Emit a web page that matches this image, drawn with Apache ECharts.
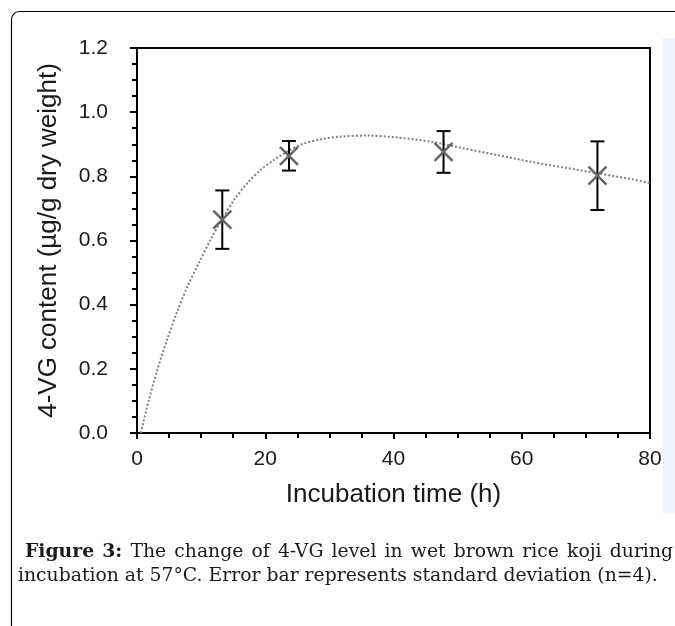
<!DOCTYPE html>
<html>
<head>
<meta charset="utf-8">
<script src="https://cdn.jsdelivr.net/npm/echarts@6/dist/echarts.min.js"></script>
<style>
  html, body { margin: 0; padding: 0; background: #fff; }
  #chart { width: 675px; height: 626px; }
</style>
</head>
<body>
<div id="chart"></div>
<script>
// measured points: incubation time (h), 4-VG content, SD
var times = [13.3, 23.7, 47.8, 71.8]
var means = [0.665, 0.864, 0.876, 0.802]
var sds = [0.091, 0.046, 0.065, 0.107]

// dotted fitted curve
var curveT = [0.6, 1.8, 3.1, 4.7, 6.3, 7.9, 9.7, 11.5, 13.4, 15.2, 17.3, 19.4, 21.5, 23.6, 25.7, 28.8, 31.9, 36, 40.6, 45.8, 51, 56.3, 61.5, 66.7, 72, 77.2, 80]
var curveY = [0, 0.099, 0.192, 0.291, 0.38, 0.458, 0.531, 0.604, 0.671, 0.728, 0.781, 0.822, 0.853, 0.879, 0.9, 0.916, 0.924, 0.927, 0.921, 0.908, 0.887, 0.866, 0.845, 0.827, 0.809, 0.791, 0.779]

var xTicks = [0, 20, 40, 60, 80]
var yTicks = [0, 0.2, 0.4, 0.6, 0.8, 1.0, 1.2]

var captionLabel = 'Figure 3:'
var captionLine1 = 'The change of 4-VG level in wet brown rice koji during'
var captionLine2 = 'incubation at 57°C. Error bar represents standard deviation (n=4).'

var chart = echarts.init(document.getElementById('chart'))

function renderPoint(params, api) {
  var t = api.value(0), y = api.value(1), sd = api.value(2)
  var c = api.coord([t, y])
  var top = api.coord([t, y + sd])[1]
  var bot = api.coord([t, y - sd])[1]
  var cap = 7, m = 9
  var bar = { stroke: '#000', lineWidth: 2 }
  var cross = { stroke: '#666', lineWidth: 2.5 }
  return {
    type: 'group',
    children: [
      { type: 'line', shape: { x1: c[0], y1: top, x2: c[0], y2: bot }, style: bar },
      { type: 'line', shape: { x1: c[0] - cap, y1: top, x2: c[0] + cap, y2: top }, style: bar },
      { type: 'line', shape: { x1: c[0] - cap, y1: bot, x2: c[0] + cap, y2: bot }, style: bar },
      { type: 'line', shape: { x1: c[0] - m, y1: c[1] - m, x2: c[0] + m, y2: c[1] + m }, style: cross },
      { type: 'line', shape: { x1: c[0] - m, y1: c[1] + m, x2: c[0] + m, y2: c[1] - m }, style: cross }
    ]
  }
}

// spread the words of a caption line between x0 and x1, like justified text
var measureCtx = document.createElement('canvas').getContext('2d')
function justifiedLine(words, x0, x1, y, font, boldFont, boldCount) {
  var widths = words.map(function (w, i) {
    measureCtx.font = i < boldCount ? boldFont : font
    return measureCtx.measureText(w).width
  })
  var total = widths.reduce(function (a, b) { return a + b }, 0)
  var gap = (x1 - x0 - total) / (words.length - 1)
  var x = x0
  return words.map(function (w, i) {
    var el = {
      type: 'text', silent: true, x: x, y: y,
      style: { text: w, font: i < boldCount ? boldFont : font, fill: '#1a1a1a', verticalAlign: 'middle' }
    }
    x += widths[i] + gap
    return el
  })
}

var axisFont = 'Liberation Sans'
var capFont = '18.8px "DejaVu Serif"'
var capBold = 'bold 18.8px "DejaVu Serif"'

var line1Words = captionLabel.split(' ').concat(captionLine1.split(' '))
var captionEls = justifiedLine(line1Words, 25, 673, 552, capFont, capBold, 2)
captionEls.push({
  type: 'text', silent: true, x: 18, y: 576,
  style: { text: captionLine2, font: capFont, fill: '#1a1a1a', verticalAlign: 'middle' }
})

var option = {
  animation: false,
  backgroundColor: '#fff',
  grid: {
    left: 137, right: 25, top: 48, bottom: 193,
    show: true, borderColor: '#000', borderWidth: 2
  },
  xAxis: {
    type: 'value',
    min: xTicks[0], max: xTicks[xTicks.length - 1], interval: xTicks[1] - xTicks[0],
    name: 'Incubation time (h)',
    nameLocation: 'middle', nameGap: 49,
    nameTextStyle: { fontFamily: axisFont, fontSize: 26, color: '#1a1a1a' },
    axisLine: { show: true, lineStyle: { color: '#000', width: 2 } },
    axisTick: { show: true, length: 6, lineStyle: { color: '#000', width: 2 } },
    minorTick: { show: true, splitNumber: 4, length: 5, lineStyle: { color: '#000', width: 2 } },
    splitLine: { show: false },
    axisLabel: { fontFamily: axisFont, fontSize: 21, color: '#1a1a1a', margin: 16 }
  },
  yAxis: {
    type: 'value',
    min: yTicks[0], max: yTicks[yTicks.length - 1], interval: 0.2,
    name: '4-VG content (µg/g dry weight)',
    nameLocation: 'middle', nameGap: 75,
    nameTextStyle: { fontFamily: axisFont, fontSize: 26, color: '#1a1a1a' },
    axisLine: { show: true, lineStyle: { color: '#000', width: 2 } },
    axisTick: { show: true, length: 7, lineStyle: { color: '#000', width: 2 } },
    minorTick: { show: true, splitNumber: 4, length: 5, lineStyle: { color: '#000', width: 2 } },
    splitLine: { show: false },
    axisLabel: {
      fontFamily: axisFont, fontSize: 21, color: '#1a1a1a', margin: 29,
      formatter: function (v) { return v.toFixed(1) }
    }
  },
  series: [
    {
      type: 'line',
      data: curveT.map(function (t, i) { return [t, curveY[i]] }),
      smooth: 0.3,
      showSymbol: false,
      z: 2,
      lineStyle: { color: '#808080', width: 2, type: [2, 2] }
    },
    {
      type: 'custom',
      data: times.map(function (t, i) { return [t, means[i], sds[i]] }),
      renderItem: renderPoint,
      z: 3
    }
  ],
  graphic: [
    {
      type: 'rect', silent: true,
      shape: { x: 11.5, y: 11.5, width: 720, height: 720, r: 8 },
      style: { fill: 'none', stroke: '#000', lineWidth: 1.2 }
    },
    {
      type: 'rect', silent: true,
      shape: { x: 663, y: 38, width: 14, height: 475 },
      style: { fill: '#edf1f8' }
    }
  ].concat(captionEls)
}

chart.setOption(option)
</script>
</body>
</html>
